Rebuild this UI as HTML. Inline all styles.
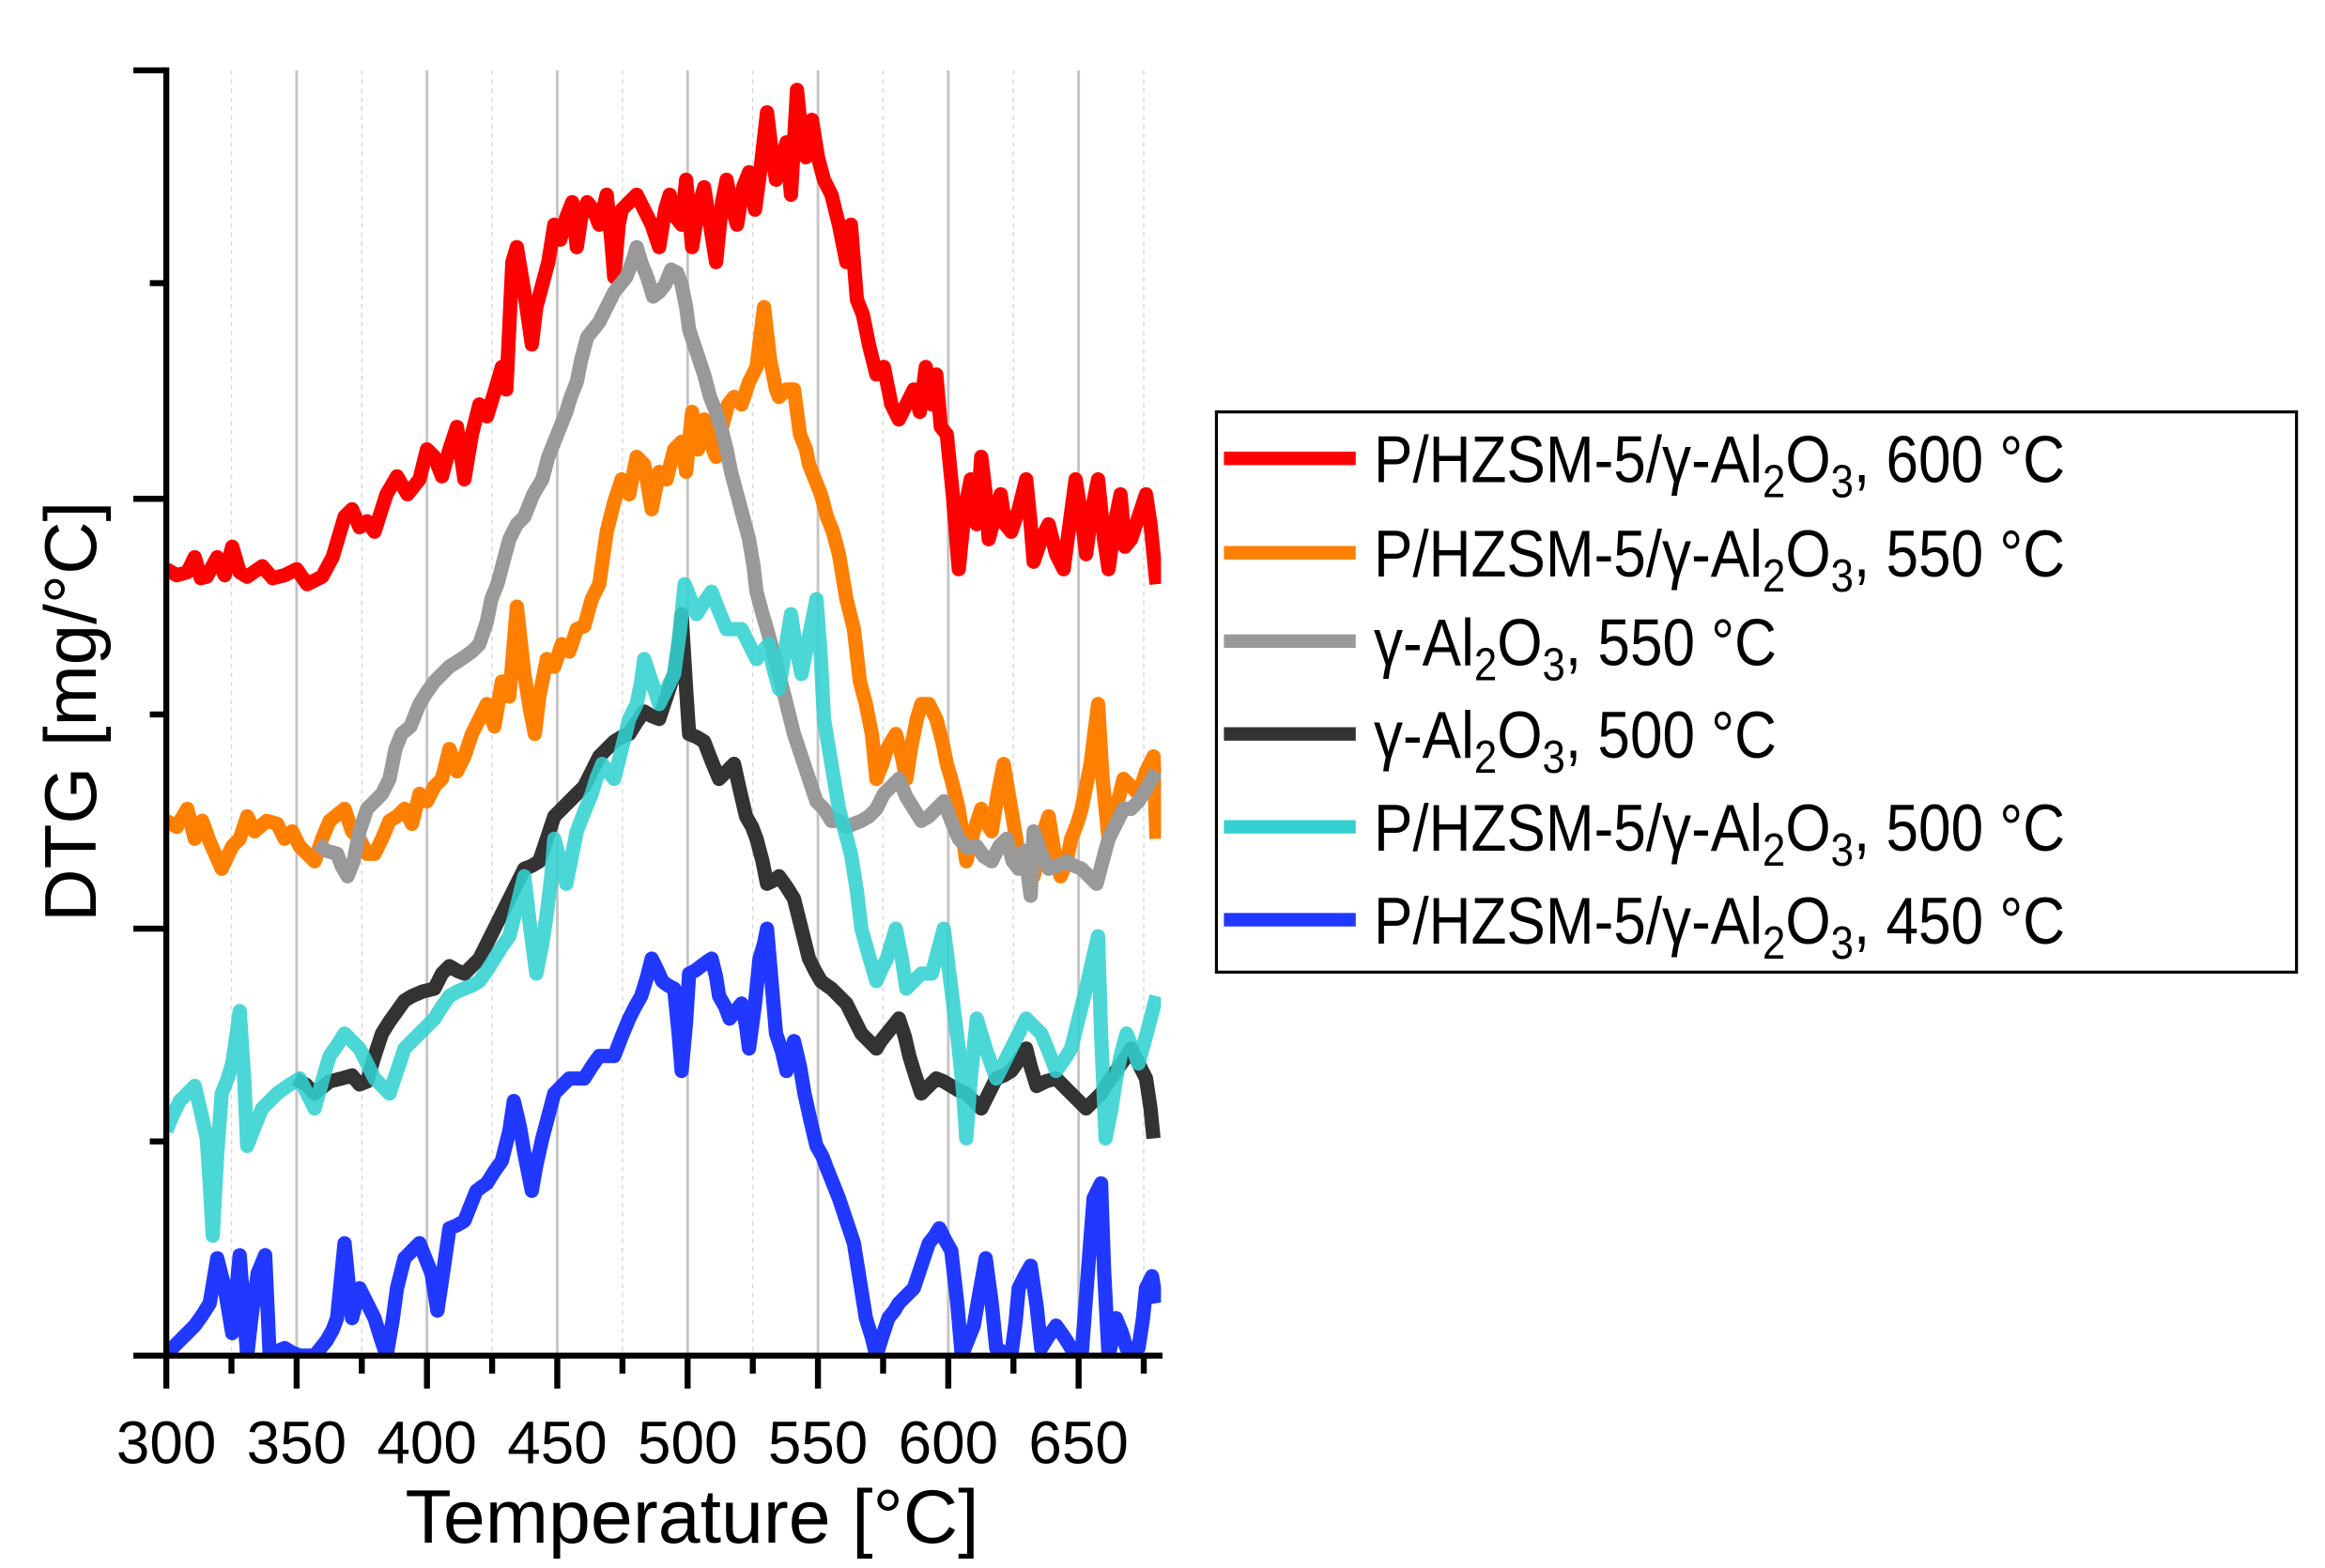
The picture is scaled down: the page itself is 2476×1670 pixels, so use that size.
<!DOCTYPE html>
<html><head><meta charset="utf-8"><style>html,body{margin:0;padding:0;background:#fff}svg{display:block}</style></head>
<body>
<svg width="2476" height="1670" viewBox="0 0 1552 1046.8" xmlns="http://www.w3.org/2000/svg" font-family="Liberation Sans, Arial, sans-serif">
<defs><clipPath id="c"><rect x="111" y="40" width="664" height="867"/></clipPath></defs>
<g stroke="#c4c4c4" stroke-width="1.8">
<line x1="198" x2="198" y1="47" y2="905"/><line x1="285" x2="285" y1="47" y2="905"/><line x1="372" x2="372" y1="47" y2="905"/><line x1="459" x2="459" y1="47" y2="905"/><line x1="546" x2="546" y1="47" y2="905"/><line x1="633" x2="633" y1="47" y2="905"/><line x1="720" x2="720" y1="47" y2="905"/>
</g>
<g stroke="#d8d8d8" stroke-width="0.9" stroke-dasharray="3,3">
<line x1="154.5" x2="154.5" y1="47" y2="905"/><line x1="241.5" x2="241.5" y1="47" y2="905"/><line x1="328.5" x2="328.5" y1="47" y2="905"/><line x1="415.5" x2="415.5" y1="47" y2="905"/><line x1="502.5" x2="502.5" y1="47" y2="905"/><line x1="589.5" x2="589.5" y1="47" y2="905"/><line x1="676.5" x2="676.5" y1="47" y2="905"/><line x1="763.5" x2="763.5" y1="47" y2="905"/>
</g>
<g clip-path="url(#c)" fill="none" stroke-linejoin="round" stroke-width="9.5">
<polyline stroke="#ff0000" points="111,380 118,384 125,382 130,372 134,386 138,385 145,372 150,384 155,365 160,382 165,385 175,378 182,386 190,384 198,380 205,390 215,385 222,372 230,345 235,340 240,352 245,348 250,355 258,330 265,318 272,330 280,320 285,300 290,305 295,318 300,300 305,285 310,320 315,290 320,270 325,278 330,262 335,245 338,260 342,175 345,165 350,195 355,230 358,205 362,190 366,175 370,150 374,160 378,145 382,135 385,165 388,145 392,135 396,140 400,150 405,130 408,160 410,185 413,150 415,140 420,135 425,130 430,140 435,150 440,165 444,140 447,130 451,145 455,150 458,120 462,165 466,140 470,125 474,150 478,175 482,135 485,120 489,140 492,150 496,125 500,115 504,140 508,110 512,75 515,100 518,120 521,110 525,95 528,130 532,60 535,90 538,105 542,80 546,105 550,120 555,130 560,150 565,175 568,150 572,200 576,210 580,230 585,250 590,245 595,270 600,280 605,270 610,260 614,275 618,245 622,270 625,250 628,285 632,290 636,330 640,380 644,340 648,320 652,350 655,305 658,330 660,360 664,345 668,330 671,350 675,355 680,340 685,320 688,350 690,375 695,360 700,350 705,370 710,380 714,350 718,320 722,345 725,370 729,340 733,320 737,360 740,380 744,350 748,330 751,365 755,360 760,345 765,330 768,350 772,390"/>
<polyline stroke="#ff7f00" points="111,548 118,552 125,540 130,560 135,548 140,562 148,580 155,565 160,560 165,545 170,555 178,548 185,550 190,560 195,555 200,565 205,570 210,575 215,560 220,548 230,540 235,555 240,560 245,570 250,570 255,560 260,548 265,545 270,540 275,550 280,530 285,535 290,525 295,520 300,500 305,515 310,505 315,490 320,480 325,470 330,485 335,455 340,465 345,405 350,450 354,475 357,490 360,465 365,440 370,445 375,430 380,435 385,420 390,418 395,400 400,390 405,355 410,335 415,320 420,330 425,305 430,310 435,340 440,315 445,320 450,300 455,295 458,315 462,275 466,300 470,280 474,295 478,305 482,285 486,270 490,265 495,270 500,255 505,245 510,205 514,240 518,260 520,265 525,260 530,260 534,290 538,300 540,310 544,320 548,330 552,345 556,355 560,370 565,400 570,420 574,455 578,470 582,490 585,520 589,510 592,500 595,495 598,490 602,505 605,520 608,500 612,480 615,470 620,470 625,480 629,495 632,510 635,520 640,540 645,575 650,555 655,540 659,550 662,555 666,530 670,510 675,540 680,570 685,580 690,585 695,560 700,545 704,570 708,585 712,575 715,560 719,550 722,540 728,510 733,470 736,520 740,560 745,540 750,520 755,525 760,530 765,515 770,505 772,560"/>
<polyline stroke="#999999" points="212,563 218,568 225,570 228,578 232,585 236,575 240,555 245,540 250,535 255,530 260,520 264,500 268,490 274,485 280,470 285,462 290,455 295,450 300,445 308,440 315,435 320,430 325,415 328,400 332,390 336,375 340,360 345,350 350,345 356,330 362,320 366,305 370,295 374,285 378,275 381,265 385,255 388,240 392,225 396,220 400,215 405,205 410,195 414,190 418,185 422,175 425,165 428,175 432,185 436,198 440,195 444,190 448,180 452,182 455,190 458,205 460,220 465,235 470,250 474,265 478,275 482,288 485,300 488,315 492,330 496,345 500,360 503,378 505,395 509,410 512,420 516,435 520,450 525,470 530,490 535,505 540,520 545,535 550,540 555,548 560,548 565,552 570,550 575,548 580,545 585,540 590,530 595,525 600,520 605,532 610,540 615,548 620,545 625,540 630,535 635,548 640,560 646,566 652,565 657,572 662,575 667,565 672,560 676,575 680,580 684,568 688,598 690,555 695,570 700,580 706,578 712,575 717,578 722,580 727,585 732,590 736,575 740,560 745,550 750,540 755,540 760,535 766,525 772,515"/>
<polyline stroke="#333333" points="197,720 204,724 210,730 215,726 220,722 228,720 235,718 240,724 245,722 250,705 255,690 260,682 265,675 270,668 275,665 282,662 290,660 295,650 300,645 305,648 310,650 315,645 320,640 325,630 330,620 335,610 340,600 345,590 350,580 355,578 360,575 365,560 370,545 375,540 380,535 385,530 390,525 395,515 400,505 405,500 410,495 415,492 420,490 425,482 430,475 435,478 440,480 445,465 450,450 453,430 455,410 458,460 460,490 465,492 470,495 475,508 480,520 485,515 490,510 494,528 498,545 502,552 505,560 509,575 512,590 516,588 520,585 525,592 530,600 535,620 540,640 544,648 548,655 552,658 555,660 560,665 565,670 570,680 575,690 580,695 585,700 588,695 592,690 596,685 600,680 604,692 607,705 611,718 615,730 620,725 625,720 630,722 635,725 640,728 645,730 650,735 655,740 660,730 665,720 670,718 675,715 680,708 685,700 688,712 692,725 698,722 705,720 710,725 715,730 720,735 725,740 730,735 735,730 740,722 745,715 750,708 755,700 760,710 765,720 768,740 770,760"/>
<polyline stroke="#33d1d1" stroke-opacity="0.88" points="111,755 115,745 120,735 125,730 130,725 134,742 138,760 140,790 142,825 145,770 148,730 152,720 155,710 158,690 160,675 163,720 165,765 170,752 175,740 180,735 185,730 192,725 200,720 205,730 210,740 215,722 220,705 225,698 230,690 235,695 240,700 245,710 250,720 255,725 260,730 265,715 270,700 275,695 280,690 285,685 290,680 295,672 300,665 305,662 310,660 315,658 320,655 325,648 330,640 335,632 340,625 345,605 350,585 354,620 358,650 362,630 365,610 368,585 370,560 374,575 378,590 382,570 385,555 390,542 395,530 398,520 402,510 406,515 410,520 415,500 420,480 425,470 428,455 430,440 435,455 440,470 445,460 450,450 454,420 457,390 461,400 465,410 470,402 475,395 480,408 485,420 490,420 495,420 500,430 505,440 509,435 513,430 516,445 520,460 524,435 528,410 531,430 535,450 540,425 545,400 548,440 550,480 555,510 560,540 564,555 568,570 572,595 575,620 580,638 585,655 588,648 592,640 595,630 598,620 602,640 605,660 610,655 615,650 618,650 622,650 626,635 630,620 635,660 640,700 643,730 645,760 648,720 652,680 658,700 665,720 670,710 675,700 680,690 685,680 690,685 695,690 700,702 705,715 710,708 715,700 720,680 725,660 729,642 733,625 735,690 738,760 742,740 745,720 748,705 752,690 756,700 760,710 766,688 772,665"/>
<polyline stroke="#2038ff" points="111,905 115,900 120,895 125,890 130,885 135,878 140,870 145,840 150,860 155,890 160,838 165,905 168,878 172,850 177,838 180,905 185,902 190,900 195,903 200,905 205,905 210,905 214,900 218,895 222,888 225,880 230,830 235,880 240,860 245,870 250,880 254,893 258,905 262,882 265,860 270,840 275,835 280,830 284,840 288,850 292,875 296,848 300,820 305,818 310,815 314,805 318,795 322,792 325,790 330,782 335,775 340,755 343,735 347,752 350,770 355,795 358,778 362,760 366,745 370,730 375,725 380,720 385,720 390,720 395,712 400,705 405,705 410,705 415,692 420,680 424,672 428,665 432,652 435,640 439,648 442,655 446,658 450,660 453,690 455,715 458,682 460,650 464,648 468,645 472,642 475,640 478,652 480,665 484,672 487,680 491,675 495,670 498,685 500,700 504,670 507,640 510,630 512,620 515,655 518,690 522,702 525,715 528,705 530,695 534,712 537,730 541,748 545,765 549,772 552,780 556,790 560,800 565,815 570,830 574,855 578,880 582,893 585,905 589,892 593,880 597,875 600,870 605,865 610,860 615,845 620,830 624,825 627,820 631,828 635,835 639,870 642,905 646,895 650,885 654,862 658,840 662,870 665,900 670,903 675,905 678,882 680,860 684,852 688,845 692,872 695,900 700,892 705,885 710,892 715,900 719,903 722,905 726,852 730,800 735,790 737,848 740,905 743,892 745,880 749,890 752,900 756,900 760,900 763,880 765,860 769,852 772,870"/>
</g>
<g stroke="#000" stroke-width="4">
<line x1="111" x2="111" y1="45" y2="907"/>
<line x1="109" x2="776" y1="905" y2="905"/>
<line x1="89" x2="111" y1="47" y2="47"/><line x1="89" x2="111" y1="333" y2="333"/><line x1="89" x2="111" y1="620" y2="620"/><line x1="89" x2="111" y1="905" y2="905"/>
<line x1="100" x2="111" y1="189" y2="189"/><line x1="100" x2="111" y1="477" y2="477"/><line x1="100" x2="111" y1="762" y2="762"/>
<line x1="111" x2="111" y1="905" y2="927"/><line x1="198" x2="198" y1="905" y2="927"/><line x1="285" x2="285" y1="905" y2="927"/><line x1="372" x2="372" y1="905" y2="927"/><line x1="459" x2="459" y1="905" y2="927"/><line x1="546" x2="546" y1="905" y2="927"/><line x1="633" x2="633" y1="905" y2="927"/><line x1="720" x2="720" y1="905" y2="927"/>
<line x1="154.5" x2="154.5" y1="905" y2="917"/><line x1="241.5" x2="241.5" y1="905" y2="917"/><line x1="328.5" x2="328.5" y1="905" y2="917"/><line x1="415.5" x2="415.5" y1="905" y2="917"/><line x1="502.5" x2="502.5" y1="905" y2="917"/><line x1="589.5" x2="589.5" y1="905" y2="917"/><line x1="676.5" x2="676.5" y1="905" y2="917"/><line x1="763.5" x2="763.5" y1="905" y2="917"/>
</g>
<g font-size="40" text-anchor="middle" fill="#000">
<text x="111" y="977">300</text><text x="198" y="977">350</text><text x="285" y="977">400</text><text x="372" y="977">450</text><text x="459" y="977">500</text><text x="546" y="977">550</text><text x="633" y="977">600</text><text x="720" y="977">650</text>
</g>
<text x="462" y="1030" font-size="50.6" text-anchor="middle">Temperature [°C]</text>
<text transform="translate(64,475) rotate(-90)" font-size="49" text-anchor="middle">DTG [mg/°C]</text>
<rect x="812" y="275" width="721" height="374" fill="#fff" stroke="#000" stroke-width="2"/>
<g stroke-width="9">
<line x1="817" x2="905" y1="306" y2="306" stroke="#ff0000"/>
<line x1="817" x2="905" y1="369" y2="369" stroke="#ff7f00"/>
<line x1="817" x2="905" y1="428" y2="428" stroke="#999999"/>
<line x1="817" x2="905" y1="490" y2="490" stroke="#333333"/>
<line x1="817" x2="905" y1="552" y2="552" stroke="#33d1d1"/>
<line x1="817" x2="905" y1="614" y2="614" stroke="#2038ff"/>
</g>
<g font-size="44" fill="#000">
<text transform="translate(917,322) scale(0.885,1)">P/HZSM-5/γ-Al<tspan font-size="31" dy="10">2</tspan><tspan dy="-10">O</tspan><tspan font-size="31" dy="10">3</tspan><tspan dy="-10">, 600 °C</tspan></text>
<text transform="translate(917,385) scale(0.885,1)">P/HZSM-5/γ-Al<tspan font-size="31" dy="10">2</tspan><tspan dy="-10">O</tspan><tspan font-size="31" dy="10">3</tspan><tspan dy="-10">, 550 °C</tspan></text>
<text transform="translate(917,444) scale(0.885,1)">γ-Al<tspan font-size="31" dy="10">2</tspan><tspan dy="-10">O</tspan><tspan font-size="31" dy="10">3</tspan><tspan dy="-10">, 550 °C</tspan></text>
<text transform="translate(917,506) scale(0.885,1)">γ-Al<tspan font-size="31" dy="10">2</tspan><tspan dy="-10">O</tspan><tspan font-size="31" dy="10">3</tspan><tspan dy="-10">, 500 °C</tspan></text>
<text transform="translate(917,568) scale(0.885,1)">P/HZSM-5/γ-Al<tspan font-size="31" dy="10">2</tspan><tspan dy="-10">O</tspan><tspan font-size="31" dy="10">3</tspan><tspan dy="-10">, 500 °C</tspan></text>
<text transform="translate(917,630) scale(0.885,1)">P/HZSM-5/γ-Al<tspan font-size="31" dy="10">2</tspan><tspan dy="-10">O</tspan><tspan font-size="31" dy="10">3</tspan><tspan dy="-10">, 450 °C</tspan></text>
</g>
</svg>
</body></html>
